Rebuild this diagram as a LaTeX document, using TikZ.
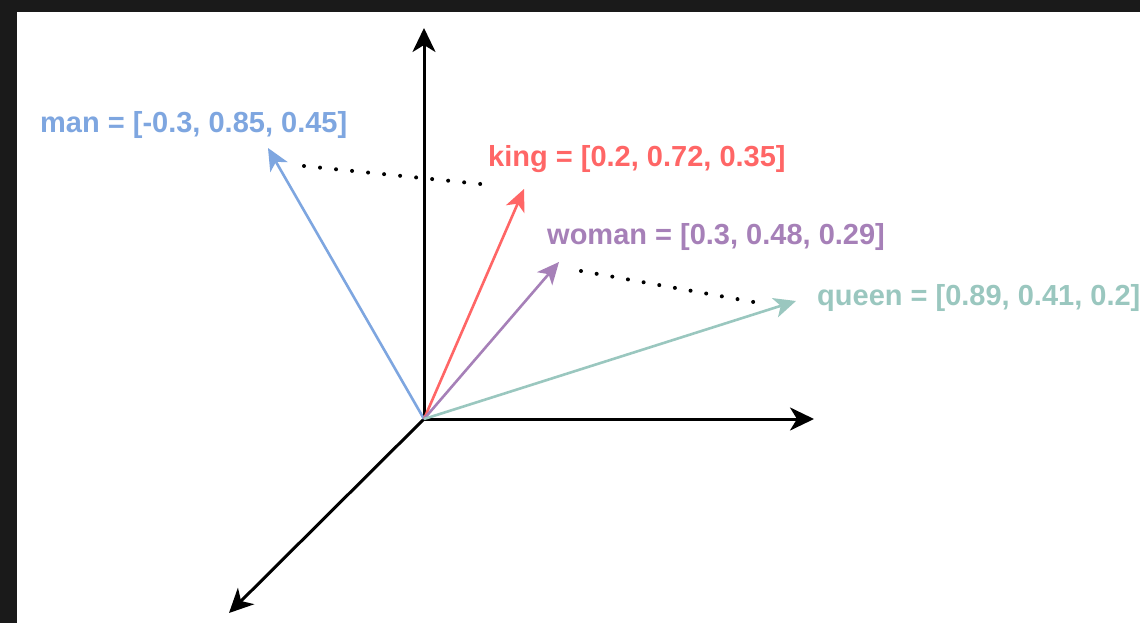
\documentclass[tikz,border=0pt]{standalone}
\usepackage{fontspec}
\setmainfont{Liberation Sans}
\usetikzlibrary{arrows.meta}
\definecolor{darkbg}{HTML}{1A1A1A}
\definecolor{manc}{HTML}{7EA6E0}
\definecolor{kingc}{HTML}{FF6666}
\definecolor{womanc}{HTML}{A680B8}
\definecolor{queenc}{HTML}{9AC7BF}
\tikzset{
  axis/.style={draw=black, line width=3pt, -{Stealth[length=24pt,width=23pt,inset=7pt]}},
  vec/.style={line width=2.6pt, -{Stealth[length=22pt,width=20pt,inset=6pt]}},
  dotline/.style={draw=black, line width=4pt, line cap=round, dash pattern=on 0pt off #1},
  lbl/.style={inner sep=0pt, anchor=base west, font=\fontsize{29}{34}\selectfont\bfseries}
}
\begin{document}
\begin{tikzpicture}[x=1pt,y=-1pt]
\fill[darkbg] (0,0) rectangle (1140,623);
\fill[white] (17,12) rectangle (1140,623);
\useasboundingbox (0,0) rectangle (1140,623);

\coordinate (O) at (424,419);
\coordinate (ytip) at (424,28);
\coordinate (xtip) at (814,419);
\coordinate (ztip) at (229,613);
\coordinate (man) at (268,148);
\coordinate (king) at (524,189);
\coordinate (woman) at (559,262);
\coordinate (queen) at (796,301);
\coordinate (d1a) at (304,166);
\coordinate (d1b) at (480.5,184);
\coordinate (d2a) at (581,271);
\coordinate (d2b) at (753.5,302);

\draw[axis] (O) -- (ytip);
\draw[axis] (O) -- (xtip);
\draw[axis] (O) -- (ztip);

\draw[dotline=16.1pt] (d1a) -- (d1b);
\draw[dotline=15.9pt] (d2a) -- (d2b);

\draw[vec, draw=manc, color=manc] (O) -- (man);
\draw[vec, draw=kingc, color=kingc] (O) -- (king);
\draw[vec, draw=womanc, color=womanc] (O) -- (woman);
\draw[vec, draw=queenc, color=queenc] (O) -- (queen);

\node[lbl, text=manc] (manlbl) at (40,132) {man = [-0.3, 0.85, 0.45]};
\node[lbl, text=kingc] (kinglbl) at (488,166) {king = [0.2, 0.72, 0.35]};
\node[lbl, text=womanc] (womanlbl) at (547,244) {woman = [0.3, 0.48, 0.29]};
\node[lbl, text=queenc] (queenlbl) at (817,305) {queen = [0.89, 0.41, 0.2]};
\end{tikzpicture}
\end{document}
